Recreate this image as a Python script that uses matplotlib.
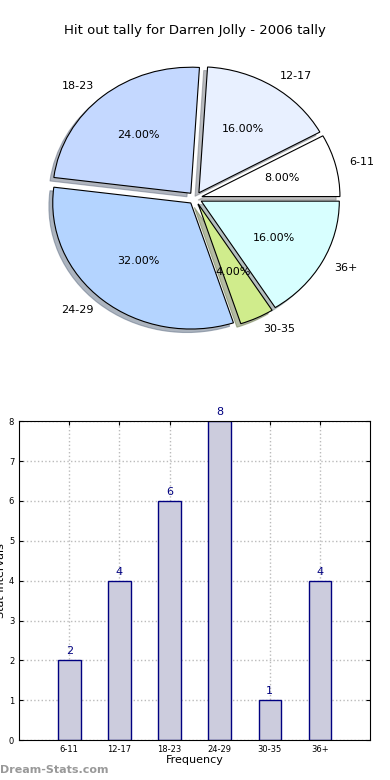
import numpy as np
import matplotlib.pyplot as plt

categories = ['6-11', '12-17', '18-23', '24-29', '30-35', '36+']
counts = [2, 4, 6, 8, 1, 4]
pie_colors = ['#ffffff', '#e8f0ff', '#c4d8ff', '#b4d4ff', '#d0ec8c', '#d8ffff']

fig = plt.figure(figsize=(3.9, 7.8), dpi=100)

# pie on top
ax1 = fig.add_axes([0.058, 0.544, 0.885, 0.404])
wedges, texts, autotexts = ax1.pie(
    counts, labels=categories, colors=pie_colors, explode=[0.05] * len(counts),
    autopct='%1.2f%%', shadow=dict(ox=-0.02, oy=-0.02, shade=0.5), startangle=0,
    wedgeprops=dict(edgecolor='black', linewidth=0.8),
    textprops=dict(fontsize=8))
ax1.set_aspect('auto')
ax1.set_xlim(-1.25, 1.25)
ax1.set_ylim(-1.25, 1.25)
fig.text(0.5, 0.961, 'Hit out tally for Darren Jolly - 2006 tally',
         ha='center', va='center', fontsize=9.5)

# bar chart below
ax2 = fig.add_axes([0.049, 0.051, 0.9, 0.409])
x = np.arange(len(categories))
ax2.bar(x, counts, width=0.45, color='#ccccdd', edgecolor='#000080', linewidth=1, zorder=2)
for xi, c in zip(x, counts):
    ax2.text(xi, c + 0.1, str(c), ha='center', va='bottom', color='#000080', fontsize=8)
ax2.set_xlim(-1, 6)
ax2.set_ylim(0, 8)
ax2.set_xticks(x)
ax2.set_xticklabels(categories)
ax2.set_yticks(range(9))
ax2.tick_params(labelsize=6, direction='in', top=True, right=True, length=3)
ax2.grid(True, linestyle=':', color='#bbbbbb', linewidth=1, zorder=0)
ax2.set_axisbelow(True)
ax2.set_xlabel('Frequency', fontsize=8, labelpad=1)
ax2.set_ylabel('Stat Intervals', fontsize=8, labelpad=2)

fig.text(0.0, 0.013, 'Dream-Stats.com', fontsize=8, color='#999999',
         fontweight='bold', ha='left', va='center')

fig.savefig('out.png', dpi=100)
